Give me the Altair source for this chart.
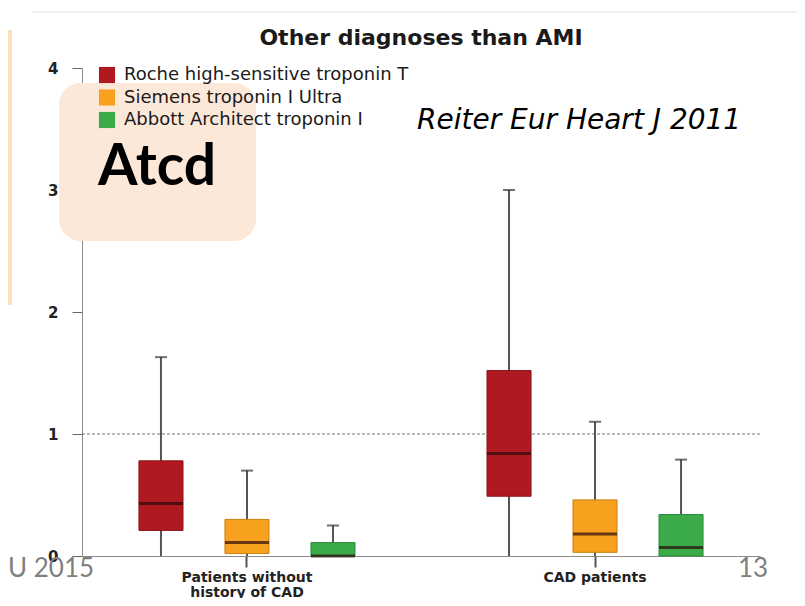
import altair as alt
import pandas as pd

# ---- data ----
groups = ["Patients without|history of CAD", "CAD patients"]
assays = ["Roche high-sensitive troponin T", "Siemens troponin I Ultra", "Abbott Architect troponin I"]
fill_colors = ["#B0191F", "#F7A11E", "#3BAA48"]
edge_colors = ["#8A1218", "#C9800F", "#2B8A37"]

row_group = [groups[0]] * 3 + [groups[1]] * 3
row_assay = assays * 2
lower = [0.00, 0.00, 0.00, 0.00, 0.00, 0.00]
q1 = [0.21, 0.02, 0.00, 0.49, 0.03, 0.00]
median = [0.43, 0.11, 0.00, 0.84, 0.18, 0.07]
q3 = [0.78, 0.30, 0.11, 1.52, 0.46, 0.34]
upper = [1.63, 0.70, 0.25, 3.00, 1.10, 0.79]

y_ticks = [0, 1, 2, 3, 4]
reference_level = [1]

title_text = "Other diagnoses than AMI"
citation = "Reiter Eur Heart J 2011"
badge = "Atcd"
footer_left = "U 2015"
footer_right = "13"

df = pd.DataFrame({
    "group": row_group, "assay": row_assay,
    "lower": lower, "q1": q1, "median": median, "q3": q3, "upper": upper,
})

yscale = alt.Scale(domain=[0, 4], nice=False, zero=True)
yaxis = alt.Axis(values=y_ticks, grid=False, title=None, domainColor="#8a8a8a",
                 tickColor="#666666", tickSize=10, labelFont="DejaVu Sans",
                 labelFontWeight="bold", labelFontSize=15, labelColor="#222222",
                 labelPadding=14)
xaxis = alt.Axis(title=None, labelAngle=0, domainColor="#8a8a8a", tickColor="#555555",
                 tickSize=11, tickWidth=2, labelFont="DejaVu Sans", labelFontWeight="bold",
                 labelFontSize=14, labelColor="#222222", labelPadding=3, labelLineHeight=15,
                 labelExpr="split(datum.label, '|')")

base = alt.Chart(df).encode(
    x=alt.X("group:N", sort=groups, axis=xaxis,
            scale=alt.Scale(paddingInner=0.1, paddingOuter=0.024)),
    xOffset=alt.XOffset("assay:N", sort=assays,
                        scale=alt.Scale(paddingInner=0.488, paddingOuter=0.565)),
)

whisker = base.mark_rule(color="#555555", strokeWidth=2).encode(
    y=alt.Y("lower:Q", scale=yscale, axis=yaxis), y2="upper:Q")

box = base.mark_bar(strokeWidth=1).encode(
    y=alt.Y("q1:Q", scale=yscale, axis=yaxis), y2="q3:Q",
    color=alt.Color("assay:N", sort=assays,
                    scale=alt.Scale(domain=assays, range=fill_colors),
                    legend=alt.Legend(orient="none", legendX=16, legendY=-2, title=None,
                                      symbolType="square", symbolSize=260,
                                      symbolStrokeWidth=0, labelFont="DejaVu Sans",
                                      labelFontSize=18, labelColor="#1a1a1a",
                                      labelOffset=8, rowPadding=4.5, padding=0,
                                      labelLimit=400)),
    stroke=alt.Stroke("assay:N", sort=assays,
                      scale=alt.Scale(domain=assays, range=edge_colors), legend=None),
)

med = base.mark_tick(color="#2a0a0a", thickness=3, size=44).encode(
    y=alt.Y("median:Q", scale=yscale, axis=yaxis))

cap = base.mark_tick(color="#333333", thickness=2, size=12).encode(
    y=alt.Y("upper:Q", scale=yscale, axis=yaxis))

dotted = alt.Chart(pd.DataFrame({"ref": reference_level})).mark_rule(
    color="#777777", strokeDash=[3, 2], strokeWidth=1).encode(
    y=alt.Y("ref:Q", scale=yscale, axis=yaxis))

one = pd.DataFrame({"k": [0]})

strip = alt.Chart(one).mark_rect(color="#F9E2BD").encode(
    x=alt.value(-82), x2=alt.value(-70), y=alt.value(-38), y2=alt.value(237))
topline = alt.Chart(one).mark_rule(color="#e2e2e2", strokeWidth=1).encode(
    x=alt.value(-50), x2=alt.value(730), y=alt.value(-56))

title_mark = alt.Chart(one).mark_text(
    text=title_text, font="DejaVu Sans", fontWeight="bold", fontSize=22,
    color="#1a1a1a", align="center", baseline="alphabetic").encode(
    x=alt.value(339), y=alt.value(-23))

cite_mark = alt.Chart(one).mark_text(
    text=citation, font="DejaVu Sans", fontStyle="italic", fontSize=28,
    color="#000000", align="left", baseline="alphabetic").encode(
    x=alt.value(335), y=alt.value(61))

badge_rect = alt.Chart(one).mark_rect(color="#FCE8D9", cornerRadius=22).encode(
    x=alt.value(-23), x2=alt.value(174), y=alt.value(15), y2=alt.value(173))
badge_text = alt.Chart(one).mark_text(
    text=badge, font="Lato", fontWeight="bold", fontSize=57, color="#000000",
    align="center", baseline="alphabetic").encode(
    x=alt.value(75), y=alt.value(117))

foot_l = alt.Chart(one).mark_text(
    text=footer_left, font="Lato", fontSize=26, color="#7f7f7f",
    align="left", baseline="alphabetic").encode(x=alt.value(-74), y=alt.value(509))
foot_r = alt.Chart(one).mark_text(
    text=footer_right, font="Lato", fontSize=26, color="#7f7f7f",
    align="left", baseline="alphabetic").encode(x=alt.value(656), y=alt.value(509))

chart = alt.layer(
    strip, topline, dotted, whisker, box, med, cap,
    title_mark, cite_mark, badge_rect, badge_text, foot_l, foot_r,
).properties(
    width=678, height=488,
    padding={"left": 74, "top": 60, "right": 37, "bottom": 42},
    autosize=alt.AutoSizeParams(type="none"),
    background="white",
).configure_view(stroke=None)

chart.save("out.html", embed_options={"renderer": "svg", "actions": False})
